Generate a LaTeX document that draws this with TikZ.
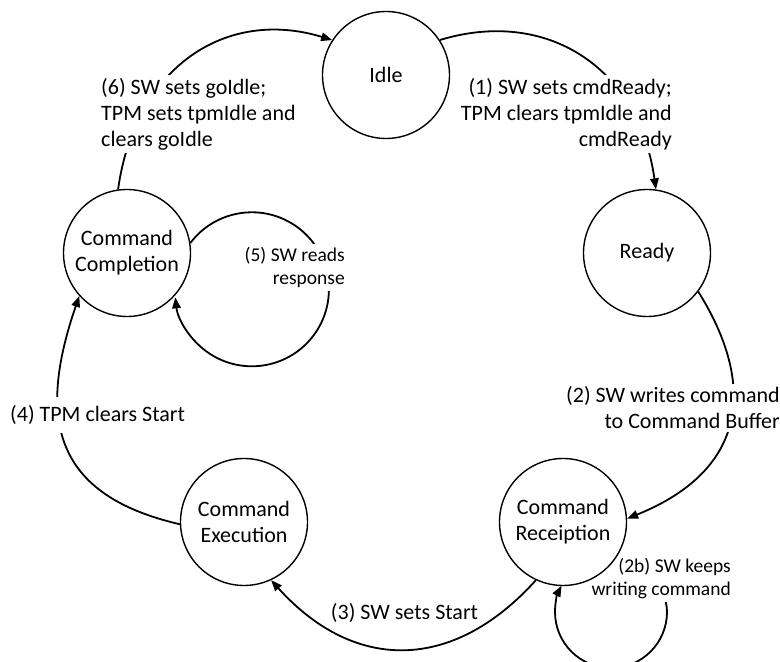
\documentclass[tikz,border=0pt]{standalone}
\usepackage{fontspec}
\setmainfont{Carlito}
\usetikzlibrary{arrows.meta}
\pgfdeclarelayer{edgelayer}
\pgfdeclarelayer{labellayer}
\pgfsetlayers{edgelayer,labellayer,main}
\newcommand{\mainfs}{\fontsize{22pt}{26pt}\selectfont}
\newcommand{\smallfs}{\fontsize{19.5pt}{23pt}\selectfont}
\begin{document}
\begin{tikzpicture}[x=1pt,y=1pt,
  state/.style={circle,draw,line width=1.4pt,minimum size=127pt,inner sep=0pt,align=center,font=\mainfs},
  edge/.style={line width=1.8pt,-{Triangle[length=11pt,width=8.5pt]}},
  lbl/.style={fill=white,inner sep=3pt,font=\mainfs},
  slbl/.style={fill=white,inner sep=3pt,font=\smallfs,align=right}]
\useasboundingbox (0,0) rectangle (780,662);

\node[state] (idle)  at (386,587) {Idle};
\node[state] (ready) at (647,409) {Ready};
\node[state] (recv)  at (563,140) {Command\\Receiption};
\node[state] (exec)  at (244,140) {Command\\Execution};
\node[state] (comp)  at (127,409) {Command\\Completion};

\begin{pgfonlayer}{edgelayer}
\draw[edge] (idle.33) .. controls +(17:110pt) and +(98:125pt) .. (ready.82);
\draw[edge] (ready.-37) .. controls +(-58:110pt) and +(22:130pt) .. (recv.3);
\draw[edge] (recv.245) .. controls +(228:124pt) and +(-48:124pt) .. (exec.295);
\draw[edge] (exec.182) .. controls +(167:130pt) and +(251:130pt) .. (comp.222);
\draw[edge] (comp.9) arc[start angle=143,end angle=-174,radius=77pt];
\draw[edge] (comp.98) .. controls +(82:125pt) and +(163:110pt) .. (idle.147);
\coordinate (loopb) at (667,50);
\draw[edge] (recv.-38) to[out=-25,in=90] (loopb) arc[start angle=0,end angle=-208,radius=56pt];
\end{pgfonlayer}

\begin{pgfonlayer}{labellayer}
\node[lbl,align=left,anchor=west] (l6) at (98,548) {(6) SW sets goIdle;\\TPM sets tpmIdle and\\clears goIdle};
\node[lbl,align=right,anchor=east] (l1) at (675,548) {(1) SW sets cmdReady;\\TPM clears tpmIdle and\\cmdReady};
\node[lbl,align=right,anchor=east] (l2) at (783,254) {(2) SW writes command\\to Command Buffer};
\node[lbl,inner ysep=8pt,anchor=west] (l4) at (7,247) {(4) TPM clears Start};
\node[font=\mainfs,inner sep=0pt] (l3) at (404.5,49) {(3) SW sets Start};
\node[slbl,anchor=east] (l5) at (348,394.4) {(5) SW reads\\response};
\node[slbl,anchor=east] (l2b) at (734,83.4) {(2b) SW keeps\\writing command};
\end{pgfonlayer}
\end{tikzpicture}
\end{document}
